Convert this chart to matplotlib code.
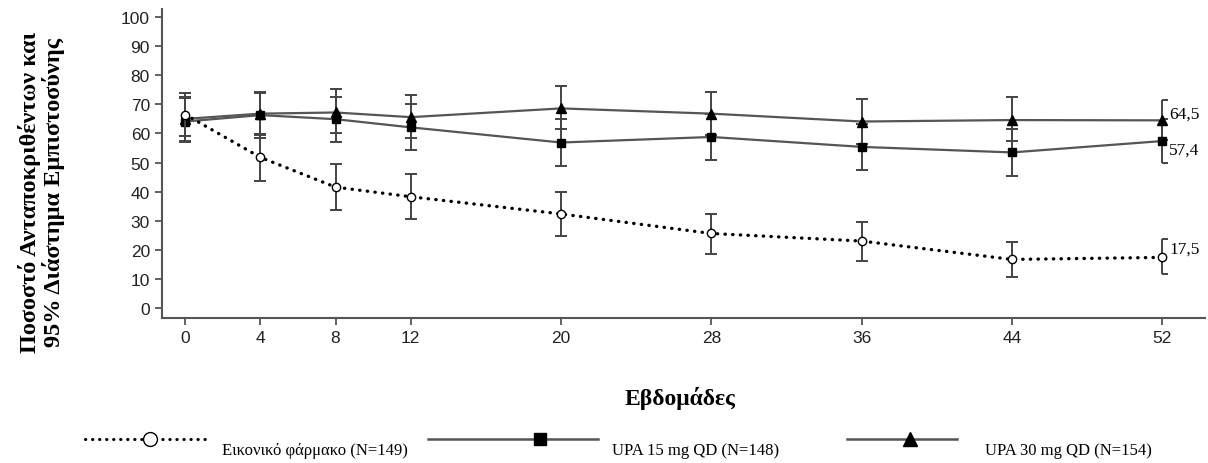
import matplotlib
matplotlib.use('Agg')
from matplotlib import pyplot as plt
from matplotlib.lines import Line2D
import numpy as np

weeks = [0, 4, 8, 12, 20, 28, 36, 44, 52]

placebo = [66.5, 51.8, 41.6, 38.3, 32.4, 25.7, 23.1, 16.8, 17.5]
placebo_lo = [59.0, 43.8, 33.9, 30.7, 24.9, 18.7, 16.3, 10.9, 11.7]
placebo_hi = [74.0, 59.8, 49.6, 46.2, 39.8, 32.5, 29.7, 22.9, 23.7]

upa15 = [64.1, 66.3, 64.9, 62.1, 56.9, 58.8, 55.4, 53.5, 57.4]
upa15_lo = [57.0, 58.6, 57.2, 54.4, 48.8, 51.0, 47.5, 45.5, 49.8]
upa15_hi = [72.0, 73.8, 72.6, 70.0, 65.0, 66.6, 63.3, 61.5, 65.0]

upa30 = [65.0, 66.8, 67.2, 65.6, 68.6, 66.8, 64.1, 64.6, 64.5]
upa30_lo = [57.5, 59.6, 60.3, 58.4, 61.5, 59.4, 56.4, 57.4, 57.6]
upa30_hi = [72.5, 74.1, 75.1, 73.1, 76.2, 74.3, 71.8, 72.4, 71.4]

labels = ['Εικονικό φάρμακο (N=149)', 'UPA 15 mg QD (N=148)', 'UPA 30 mg QD (N=154)']
end_labels = ['17,5', '57,4', '64,5']

SERIF = 'Liberation Serif'
SANS = 'Liberation Sans'
ecol = '#444444'
lcol = '#555555'

fig = plt.figure(figsize=(12.08, 4.64), dpi=100)
ax = fig.add_axes([0.1339, 0.3118, 0.864, 0.6667])


def draw(y, lo, hi, z, **kw):
    y = np.array(y); lo = np.array(lo); hi = np.array(hi)
    x = np.array(weeks, dtype=float)
    err = [y - lo, hi - y]
    # all but last point: full caps
    ax.errorbar(x[:-1], y[:-1], yerr=[err[0][:-1], err[1][:-1]], fmt='none',
                ecolor=ecol, elinewidth=1.4, capsize=4.5, capthick=1.4, zorder=z)
    # last point: half caps (bracket shape)
    ax.errorbar(x[-1:], y[-1:], yerr=[err[0][-1:], err[1][-1:]], fmt='none',
                ecolor=ecol, elinewidth=1.4, capsize=0, zorder=z)
    ax.plot([x[-1], x[-1]], [lo[-1], hi[-1]], ls='none', marker=[(0, 0), (1, 0)],
            markersize=9, mec=ecol, mew=1.4, zorder=z)
    ax.plot(x, y, zorder=z + 1, **kw)


draw(upa30, upa30_lo, upa30_hi, 3, color=lcol, lw=1.6, marker='^', ms=6.5,
     mfc='black', mec='black')
draw(upa15, upa15_lo, upa15_hi, 3, color=lcol, lw=1.6, marker='s', ms=5.5,
     mfc='black', mec='black')
draw(placebo, placebo_lo, placebo_hi, 5, color='black', lw=2.4,
     linestyle=(0, (0.1, 2.2)), dash_capstyle='round', marker='o', ms=6,
     mfc='white', mec='black', mew=1.0)

# end-point value labels
offsets = [6, -6, 5]
for val, txt, off in zip([placebo[-1], upa15[-1], upa30[-1]], end_labels, offsets):
    ax.annotate(txt, xy=(weeks[-1], val), xytext=(5, off), textcoords='offset points',
                va='center', ha='left', fontsize=12.5, family=SERIF)

ax.set_xlim(-1.25, 54.3)
ax.set_ylim(-3.4, 102.7)
ax.set_xticks(weeks)
ax.set_yticks(range(0, 101, 10))
for s in ['top', 'right']:
    ax.spines[s].set_visible(False)
for s in ['left', 'bottom']:
    ax.spines[s].set_color('#555555')
    ax.spines[s].set_linewidth(1.5)
ax.tick_params(colors='#555555', length=5, width=1.3, labelsize=12.5, labelcolor='#222222')
for t in ax.get_xticklabels() + ax.get_yticklabels():
    t.set_family(SANS)

fig.text(0.034, 0.585, 'Ποσοστό Ανταποκριθέντων και\n95% Διάστημα Εμπιστοσύνης',
         rotation=90, ha='center', va='center', fontsize=17.5, fontweight='bold',
         family=SERIF, linespacing=1.05)
fig.text(0.563, 0.142, 'Εβδομάδες', ha='center', va='center', fontsize=17,
         fontweight='bold', family=SERIF)

# legend drawn by hand
H = 464.0
W = 1208.0
ly = 1 - 440 / H
ty = 1 - 451 / H
handles = [
    dict(x0=85, x1=210, xm=150, color='black', lw=2.2, ls=(0, (0.1, 2.2)),
         marker='o', mfc='white', ms=10, tx=222),
    dict(x0=428, x1=598, xm=540, color=lcol, lw=1.8, ls='-', marker='s',
         mfc='black', ms=9, tx=612),
    dict(x0=847, x1=957, xm=910, color=lcol, lw=1.8, ls='-', marker='^',
         mfc='black', ms=10, tx=985),
]
for h, lab in zip(handles, labels):
    fig.add_artist(Line2D([h['x0'] / W, h['x1'] / W], [ly, ly], transform=fig.transFigure,
                          color=h['color'], lw=h['lw'], linestyle=h['ls'],
                          dash_capstyle='round'))
    fig.add_artist(Line2D([h['xm'] / W], [ly], transform=fig.transFigure, ls='none',
                          marker=h['marker'], ms=h['ms'], mfc=h['mfc'], mec='black'))
    fig.text(h['tx'] / W, ty, lab, ha='left', va='center', fontsize=12, family=SERIF)

fig.savefig('out.png', dpi=100)
